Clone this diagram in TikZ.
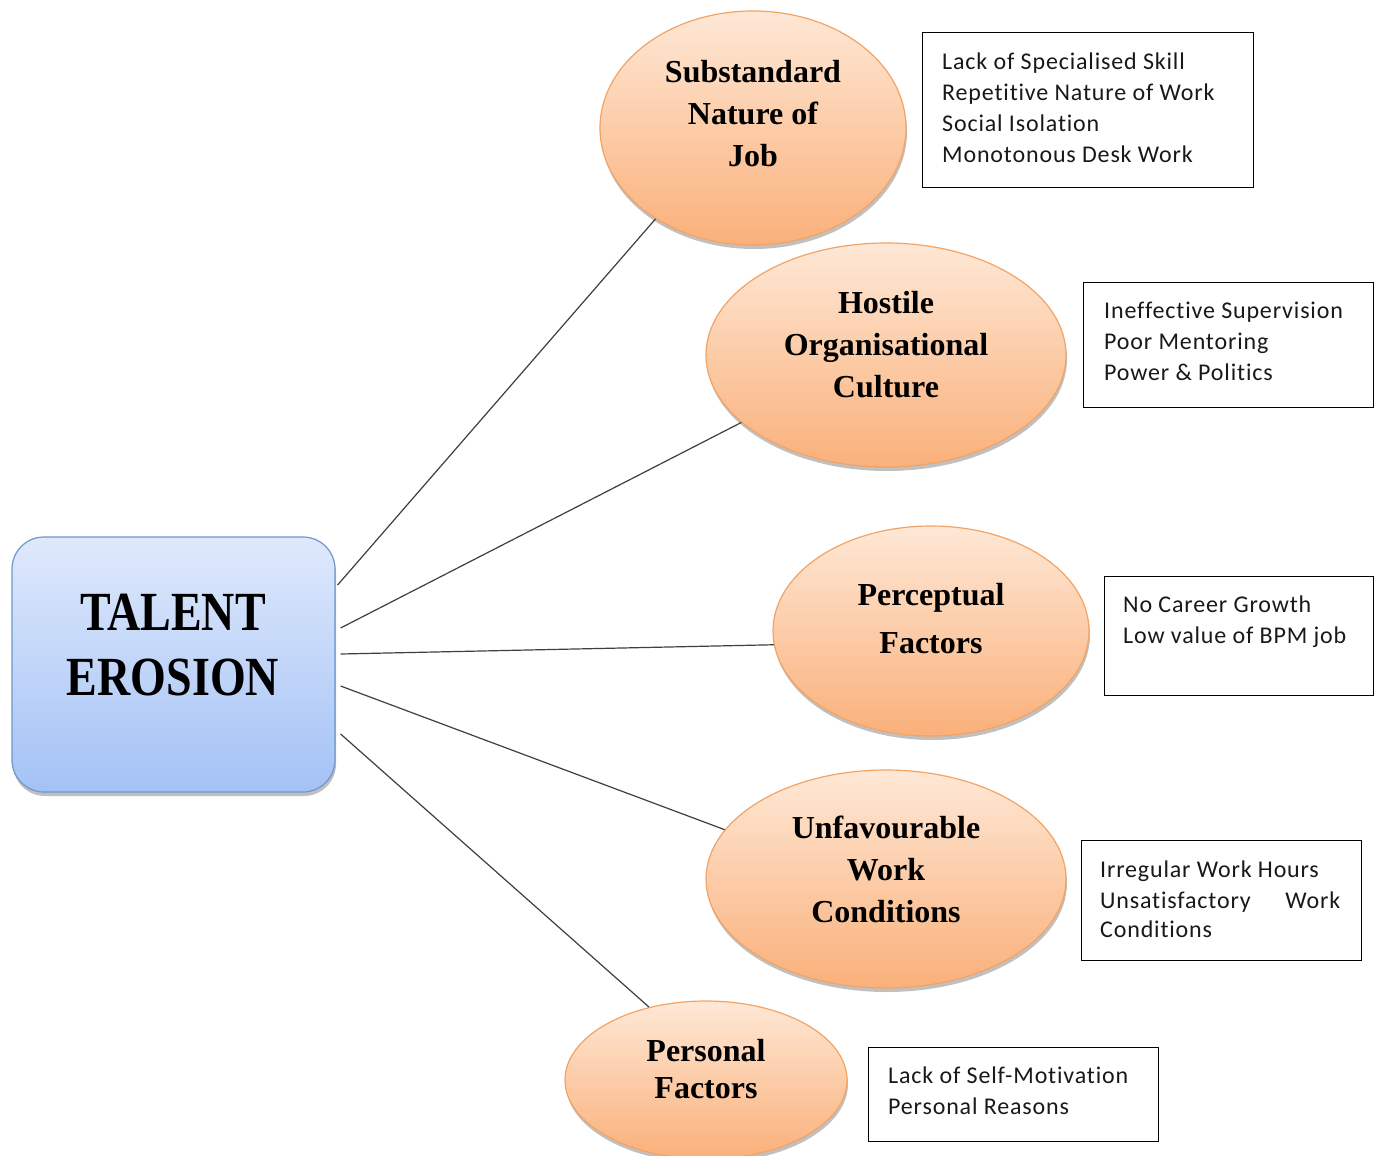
\documentclass[tikz,border=0pt]{standalone}
\usepackage{fontspec}
\setmainfont{Liberation Serif}
\newfontfamily\calfont[LetterSpace=3.5,Ligatures={NoCommon}]{Carlito}
\usetikzlibrary{shapes.geometric,shadows,calc}
\definecolor{peachtop}{HTML}{FEE8D6}
\definecolor{peachbot}{HTML}{FAB07A}
\definecolor{peachline}{HTML}{F3A364}
\definecolor{bluetop}{HTML}{DFE9FC}
\definecolor{bluebot}{HTML}{A3C2F5}
\definecolor{blueline}{HTML}{6F97CB}
\definecolor{connc}{HTML}{3F3F3F}
\begin{document}
\begin{tikzpicture}[x=1pt,y=-1pt,
  cause/.style={ellipse, draw=peachline, line width=1.2pt, top color=peachtop, bottom color=peachbot, inner sep=0pt,
    drop shadow={shadow xshift=1pt, shadow yshift=-4pt, opacity=0.35, fill=black!70}},
  causetext/.style={align=center, font=\fontsize{32}{42}\selectfont\bfseries, text=black, inner sep=0pt},
  tebox/.style={draw=blueline, line width=1.2pt, rounded corners=32pt, top color=bluetop, bottom color=bluebot,
    drop shadow={shadow xshift=1pt, shadow yshift=-4pt, opacity=0.35, fill=black!70}},
  tetext/.style={align=center, font=\fontsize{46}{65}\selectfont\bfseries, inner sep=0pt},
  listbox/.style={draw=black, line width=1.4pt, fill=white, anchor=north west, inner sep=0pt},
  listtext/.style={align=left, anchor=north west, font=\calfont\fontsize{24}{31}\selectfont, text=black!90, inner sep=0pt},
  conn/.style={draw=connc, line width=1.2pt}]
\useasboundingbox (0,0) rectangle (1381,1156);
\fill[white] (0,0) rectangle (1381,1156);

% central box
\node[tebox, minimum width=323pt, minimum height=255pt] (tb) at (173.5,664.5) {};
\node[tetext] (tt) at (173,645) {\scalebox{1}[1.2]{TALENT}\\\scalebox{1}[1.2]{EROSION}};

% cause ellipses
\node[cause, minimum width=306pt, minimum height=234pt] (e1) at (753,128) {};
\node[cause, minimum width=360pt, minimum height=224pt] (e2) at (886,355) {};
\node[cause, minimum width=316pt, minimum height=210pt] (e3) at (931,631) {};
\node[cause, minimum width=360pt, minimum height=218pt] (e4) at (886,879) {};
\node[cause, minimum width=282pt, minimum height=158pt] (e5) at (706,1080) {};

\node[causetext] (t1) at (753,114) {Substandard\\Nature of\\Job};
\node[causetext] (t2) at (886,345) {Hostile\\Organisational\\Culture};
\node[causetext] (t3) at (931,619) {Perceptual\\[6pt]Factors};
\node[causetext] (t4) at (886,869) {Unfavourable\\Work\\Conditions};
\node[causetext, font=\fontsize{32}{37}\selectfont\bfseries] (t5) at (706,1069) {Personal\\Factors};

% connectors
\draw[conn] ($(tb.east)+(2,-79.5)$) -- (e1.223);
\draw[conn] ($(tb.east)+(5,-36.5)$) -- (e2.205);
\draw[conn] ($(tb.east)+(5,-10.5)$) -- (e3.185.8);
\draw[conn] ($(tb.east)+(5,21.5)$) -- (e4.163);
\draw[conn] ($(tb.east)+(5,69.5)$) -- (e5.128);

% list boxes
\node[listbox, minimum width=331pt, minimum height=155pt] (b1) at (922,32) {};
\node[listtext] (l1) at (942,53) {Lack of Specialised Skill\\Repetitive Nature of Work\\Social Isolation\\Monotonous Desk Work};

\node[listbox, minimum width=290pt, minimum height=125pt] (b2) at (1083,282) {};
\node[listtext] (l2) at (1104,302) {Ineffective Supervision\\Poor Mentoring\\Power \& Politics};

\node[listbox, minimum width=269pt, minimum height=119pt] (b3) at (1104,576) {};
\node[listtext] (l3) at (1123,596) {No Career Growth\\Low value of BPM job};

\node[listbox, minimum width=280pt, minimum height=120pt] (b4) at (1081,840) {};
\node[listtext] (l4) at (1100,861) {Irregular Work Hours\\\makebox[240pt][l]{Unsatisfactory\hfill Work}\\[-2pt]Conditions};

\node[listbox, minimum width=290pt, minimum height=94pt] (b5) at (868,1047) {};
\node[listtext] (l5) at (888,1067) {Lack of Self-Motivation\\Personal Reasons};
\end{tikzpicture}
\end{document}
